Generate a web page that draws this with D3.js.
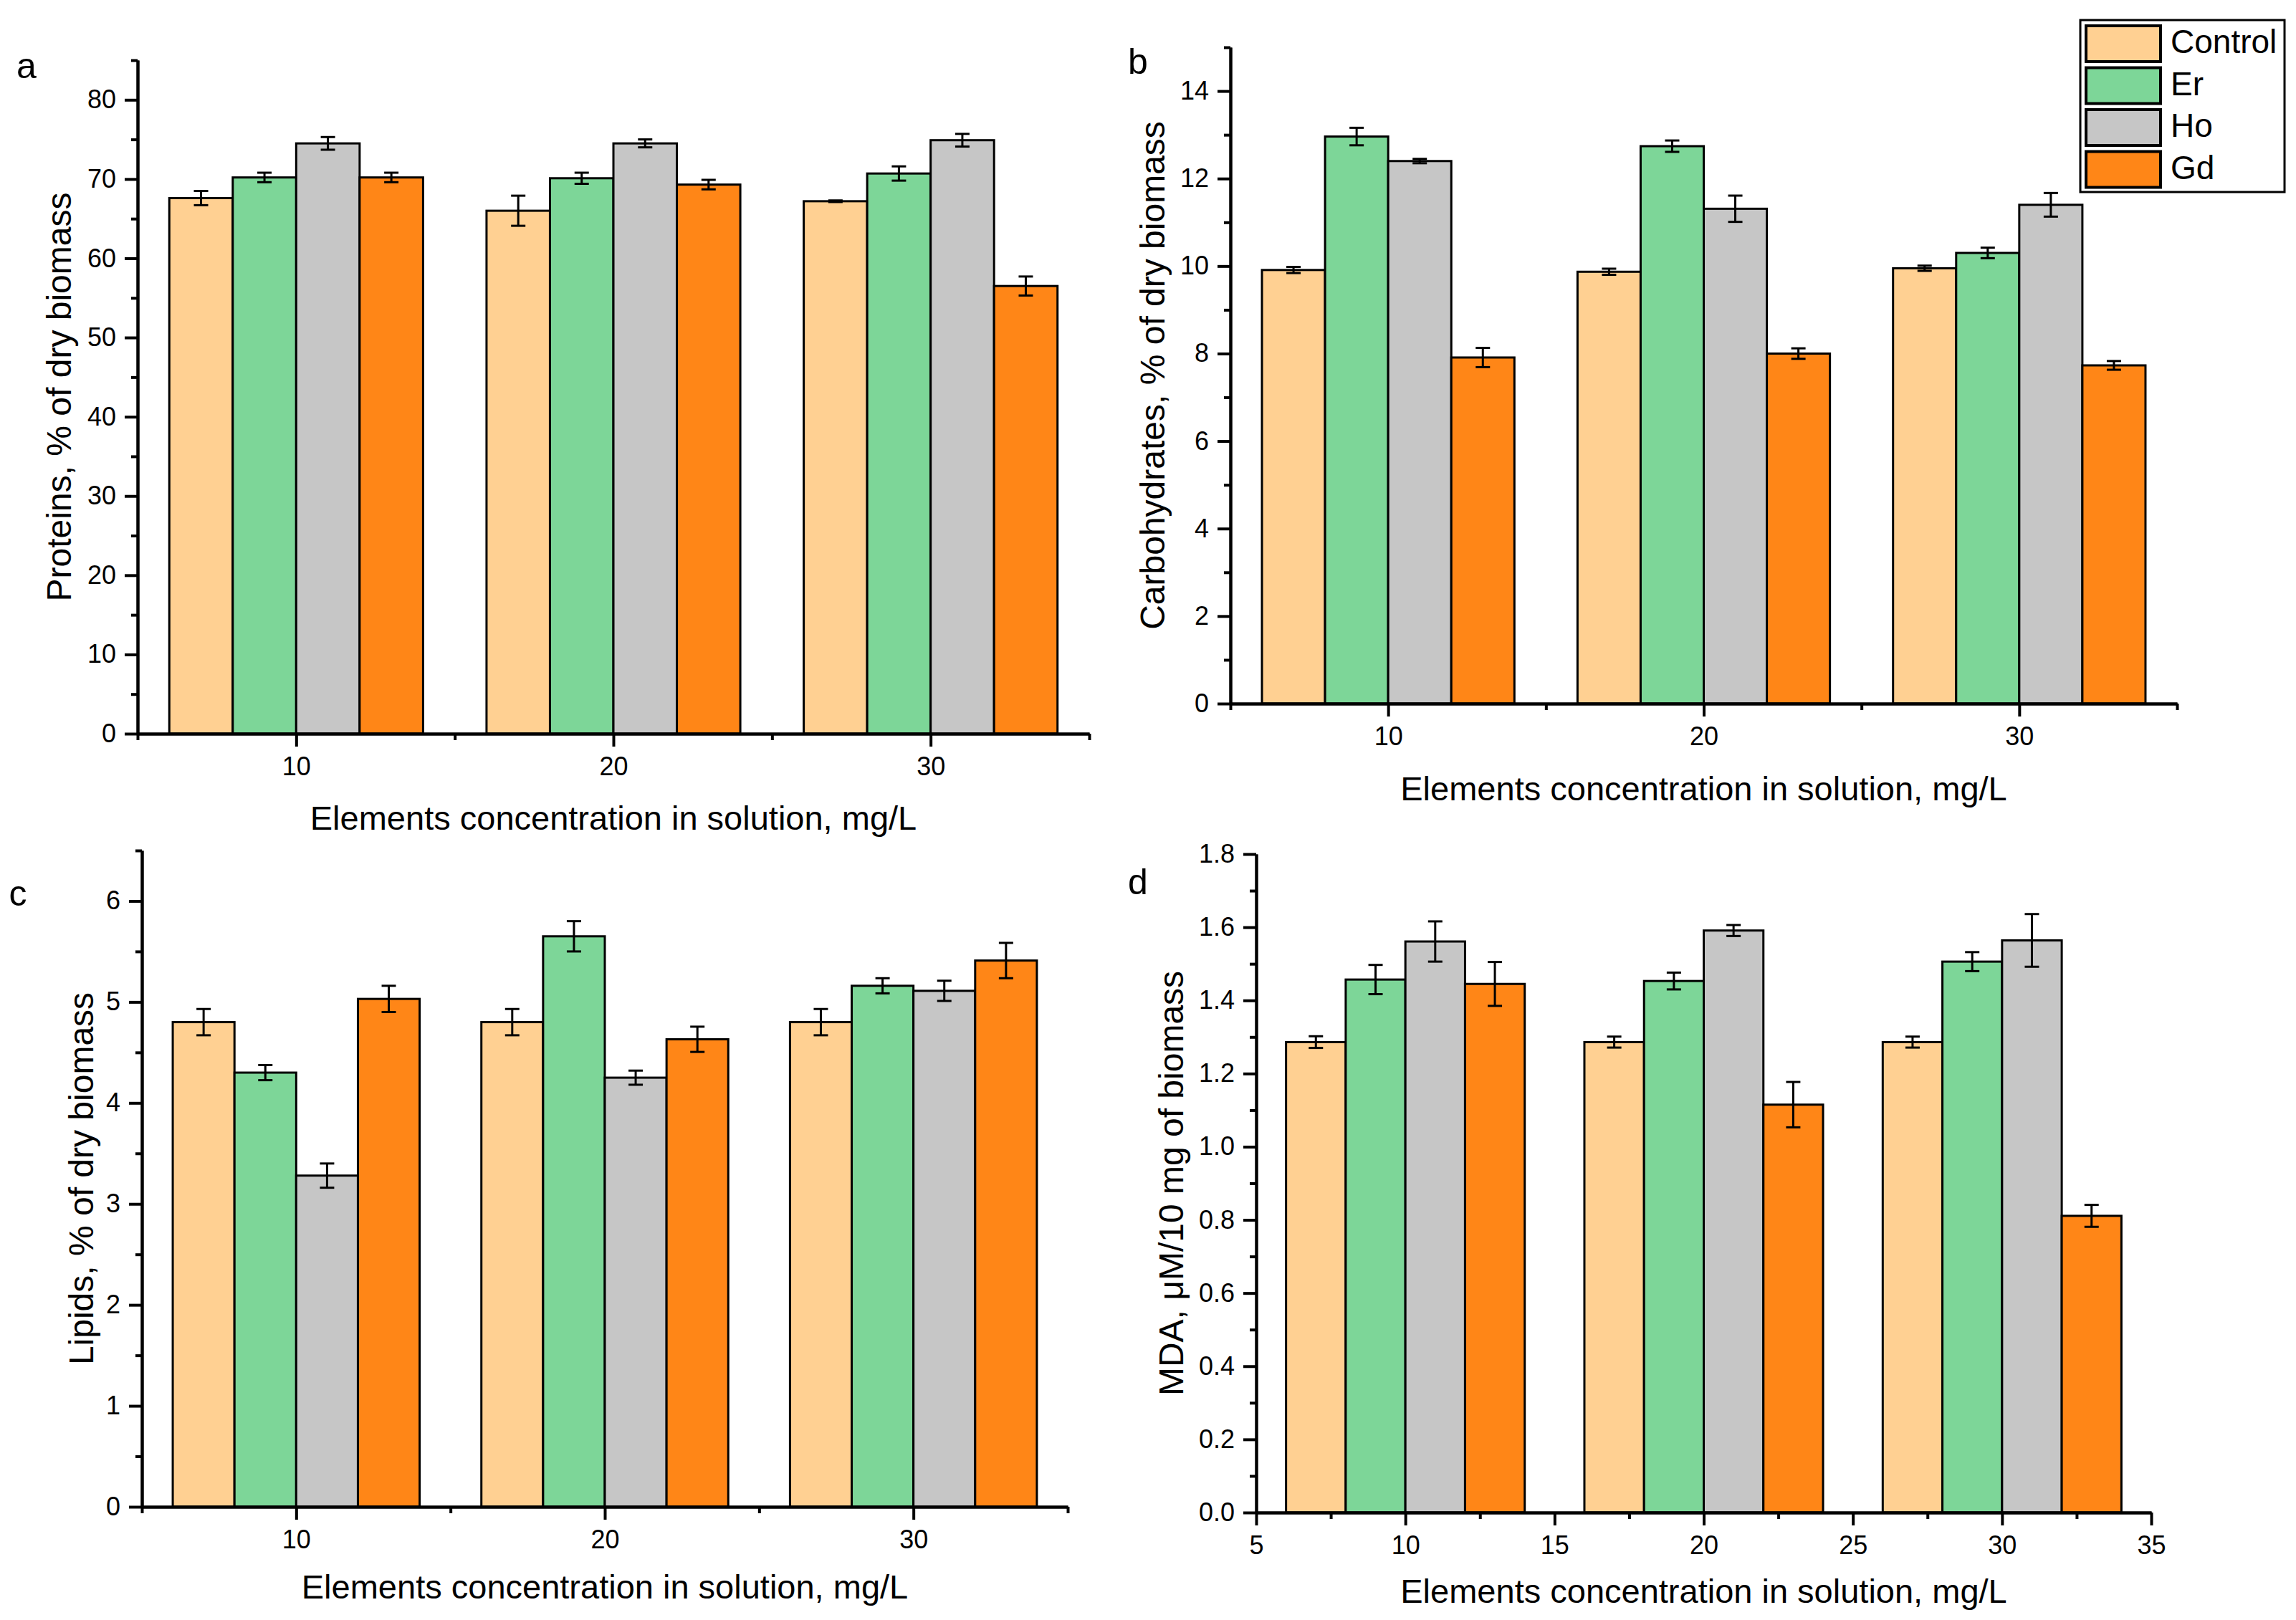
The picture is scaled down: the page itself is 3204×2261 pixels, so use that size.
<!DOCTYPE html>
<html>
<head>
<meta charset="utf-8">
<script src="https://cdn.jsdelivr.net/npm/d3@7"></script>
<style>
body { margin: 0; background: #fff; }
text { font-family: "Liberation Sans", Arial, sans-serif; fill: #000; }
</style>
</head>
<body>
<div id="chart"></div>
<script>
// concentrations (mg/L) and treatments
const groups = [10, 20, 30];
const series = ["Control", "Er", "Ho", "Gd"];

// a - proteins, one row per series
const proteinsMean = [[67.6, 66.0, 67.2], [70.2, 70.1, 70.7], [74.5, 74.5, 74.9], [70.2, 69.3, 56.5]];
const proteinsErr = [[0.9, 1.9, 0.1], [0.6, 0.7, 0.9], [0.8, 0.5, 0.8], [0.6, 0.6, 1.2]];

// b - carbohydrates
const carbsMean = [[9.91, 9.87, 9.95], [12.96, 12.74, 10.30], [12.40, 11.31, 11.40], [7.91, 8.00, 7.73]];
const carbsErr = [[0.07, 0.07, 0.06], [0.20, 0.13, 0.12], [0.05, 0.30, 0.27], [0.22, 0.12, 0.10]];

// c - lipids
const lipidsMean = [[4.80, 4.80, 4.80], [4.30, 5.65, 5.16], [3.28, 4.25, 5.11], [5.03, 4.63, 5.41]];
const lipidsErr = [[0.13, 0.13, 0.13], [0.075, 0.15, 0.075], [0.12, 0.07, 0.10], [0.13, 0.125, 0.175]];

// d - MDA
const mdaMean = [[1.286, 1.286, 1.286], [1.457, 1.453, 1.506], [1.561, 1.591, 1.564], [1.445, 1.115, 0.811]];
const mdaErr = [[0.016, 0.015, 0.015], [0.04, 0.023, 0.026], [0.055, 0.015, 0.072], [0.06, 0.062, 0.03]];

const colors = ["#FFD092", "#7DD698", "#C6C6C6", "#FF8617"];

const W = 3204, H = 2261;
const svg = d3.select("#chart").append("svg")
    .attr("width", W)
    .attr("height", H)
    .style("display", "block");

function panel(o) {
    const x = d3.scaleLinear().domain([5, 35]).range([o.left, o.right]);
    const y = d3.scaleLinear().domain([0, o.yMax]).range([o.bottom, o.top]);
    const g = svg.append("g");

    // bars
    series.forEach((s, i) => {
        g.selectAll(".bar" + i)
            .data(groups)
          .enter().append("rect")
            .attr("x", (d) => x(d - 4 + 2 * i))
            .attr("width", (d) => x(d - 2 + 2 * i) - x(d - 4 + 2 * i))
            .attr("y", (d, j) => y(o.mean[i][j]))
            .attr("height", (d, j) => o.bottom - y(o.mean[i][j]))
            .attr("fill", colors[i])
            .attr("stroke", "#000")
            .attr("stroke-width", 3);
    });

    // error bars
    series.forEach((s, i) => {
        const eb = g.selectAll(".err" + i)
            .data(groups)
          .enter().append("g")
            .attr("transform", (d) => `translate(${x(d - 3 + 2 * i)},0)`);
        eb.append("line")
            .attr("y1", (d, j) => y(o.mean[i][j] - o.err[i][j]))
            .attr("y2", (d, j) => y(o.mean[i][j] + o.err[i][j]));
        eb.append("line")
            .attr("x1", -10).attr("x2", 10)
            .attr("y1", (d, j) => y(o.mean[i][j] + o.err[i][j]))
            .attr("y2", (d, j) => y(o.mean[i][j] + o.err[i][j]));
        eb.append("line")
            .attr("x1", -10).attr("x2", 10)
            .attr("y1", (d, j) => y(o.mean[i][j] - o.err[i][j]))
            .attr("y2", (d, j) => y(o.mean[i][j] - o.err[i][j]));
        eb.selectAll("line").attr("stroke", "#000").attr("stroke-width", 3);
    });

    // minor ticks
    g.append("g")
        .attr("transform", `translate(${o.left},0)`)
        .call(d3.axisLeft(y).tickValues(o.yMinor).tickSize(9).tickSizeOuter(0).tickFormat(""));
    g.append("g")
        .attr("transform", `translate(0,${o.bottom})`)
        .call(d3.axisBottom(x).tickValues(o.xMinor).tickSize(9).tickSizeOuter(0).tickFormat(""));

    // major ticks
    g.append("g")
        .attr("class", "yaxis")
        .attr("transform", `translate(${o.left},0)`)
        .call(d3.axisLeft(y).tickValues(o.yMajor).tickSize(18).tickSizeOuter(0).tickPadding(12).tickFormat(o.yFmt));
    g.append("g")
        .attr("class", "xaxis")
        .attr("transform", `translate(0,${o.bottom})`)
        .call(d3.axisBottom(x).tickValues(o.xMajor).tickSize(18).tickSizeOuter(0).tickPadding(14).tickFormat(d3.format("d")));

    g.selectAll(".domain").attr("stroke", "#000").attr("stroke-width", 4);
    g.selectAll(".tick line").attr("stroke", "#000").attr("stroke-width", 4);
    g.selectAll(".tick text")
        .style("font-family", "'Liberation Sans', Arial, sans-serif")
        .style("font-size", "36px")
        .attr("fill", "#000");

    // axis titles
    g.append("text")
        .attr("x", (o.left + o.right) / 2)
        .attr("y", o.xTitleY)
        .attr("text-anchor", "middle")
        .style("font-size", "47px")
        .text("Elements concentration in solution, mg/L");
    g.append("text")
        .attr("transform", `translate(${o.yTitleX},${(o.top + o.bottom) / 2}) rotate(-90)`)
        .attr("text-anchor", "middle")
        .attr("dominant-baseline", "middle")
        .style("font-size", "48px")
        .text(o.yTitle);

    // panel letter
    g.append("text")
        .attr("x", o.letterX)
        .attr("y", o.letterY)
        .attr("text-anchor", "middle")
        .attr("dominant-baseline", "middle")
        .style("font-size", "50px")
        .text(o.letter);
}

panel({
    left: 192, right: 1520, top: 84, bottom: 1024,
    yMax: 85, yMajor: d3.range(0, 81, 10), yMinor: d3.range(5, 86, 10), yFmt: d3.format("d"),
    xMajor: [10, 20, 30], xMinor: [5, 15, 25, 35],
    mean: proteinsMean, err: proteinsErr,
    yTitle: "Proteins,  % of dry biomass", yTitleX: 86, xTitleY: 1158,
    letter: "a", letterX: 37, letterY: 96
});

panel({
    left: 1717, right: 3038, top: 66, bottom: 982,
    yMax: 15, yMajor: d3.range(0, 15, 2), yMinor: d3.range(1, 16, 2), yFmt: d3.format("d"),
    xMajor: [10, 20, 30], xMinor: [5, 15, 25, 35],
    mean: carbsMean, err: carbsErr,
    yTitle: "Carbohydrates,  % of dry biomass", yTitleX: 1612, xTitleY: 1117,
    letter: "b", letterX: 1588, letterY: 90
});

panel({
    left: 198, right: 1490, top: 1187, bottom: 2103,
    yMax: 6.5, yMajor: d3.range(0, 7, 1), yMinor: [0.5, 1.5, 2.5, 3.5, 4.5, 5.5, 6.5], yFmt: d3.format("d"),
    xMajor: [10, 20, 30], xMinor: [5, 15, 25, 35],
    mean: lipidsMean, err: lipidsErr,
    yTitle: "Lipids,  % of dry biomass", yTitleX: 117, xTitleY: 2231,
    letter: "c", letterX: 25, letterY: 1251
});

panel({
    left: 1753, right: 3002, top: 1192, bottom: 2111,
    yMax: 1.8, yMajor: [0, 0.2, 0.4, 0.6, 0.8, 1.0, 1.2, 1.4, 1.6, 1.8], yMinor: [0.1, 0.3, 0.5, 0.7, 0.9, 1.1, 1.3, 1.5, 1.7], yFmt: d3.format(".1f"),
    xMajor: [5, 10, 15, 20, 25, 30, 35], xMinor: [7.5, 12.5, 17.5, 22.5, 27.5, 32.5],
    mean: mdaMean, err: mdaErr,
    yTitle: "MDA, \u03bcM/10 mg of biomass", yTitleX: 1638, xTitleY: 2237,
    letter: "d", letterX: 1588, letterY: 1235
});

// legend
const leg = svg.append("g").attr("transform", "translate(2903,28)");
leg.append("rect")
    .attr("width", 285).attr("height", 240)
    .attr("fill", "#fff").attr("stroke", "#000").attr("stroke-width", 3);
const item = leg.selectAll(".item")
    .data(series)
  .enter().append("g")
    .attr("transform", (d, i) => `translate(8,${8 + i * 58.5})`);
item.append("rect")
    .attr("width", 104).attr("height", 50)
    .attr("fill", (d, i) => colors[i])
    .attr("stroke", "#000").attr("stroke-width", 4);
item.append("text")
    .attr("x", 118).attr("y", 26)
    .attr("dominant-baseline", "middle")
    .style("font-size", "46px")
    .text((d) => d);
</script>
</body>
</html>
